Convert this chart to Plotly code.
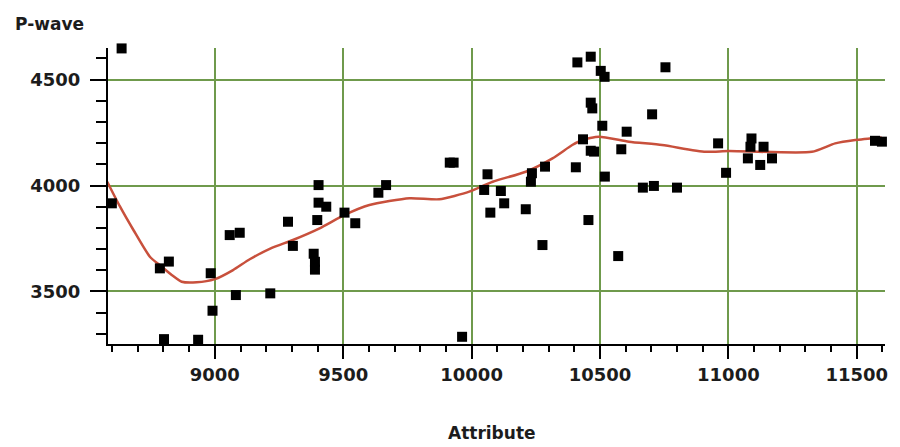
import plotly.graph_objects as go

# Scatter data (Attribute vs P-wave)
attr_x = [8599, 8637, 8786, 8821, 8802, 8935, 8984, 8991, 9058, 9097, 9082, 9216,
          9285, 9304, 9404, 9404, 9434, 9399, 9385, 9390, 9390, 9505, 9547, 9637,
          9667, 9915, 9930, 9963, 10118, 10412, 10464, 10503, 10518, 10464, 10470,
          10509, 10604, 10434, 10464, 10477, 10583, 10406, 10286, 10235, 10231,
          10062, 10049, 10114, 10127, 10073, 10211, 10276, 10455, 10519, 10571,
          10703, 10755, 10960, 10991, 11090, 11086, 11137, 11076, 11124, 11170,
          10667, 10710, 10800, 11571, 11598]
pwave_y = [3916, 4647, 3609, 3641, 3275, 3272, 3586, 3409, 3766, 3777, 3483, 3491,
           3829, 3715, 4002, 3919, 3900, 3837, 3678, 3640, 3603, 3872, 3822, 3966,
           4002, 4108, 4108, 3286, 4652, 4581, 4608, 4541, 4513, 4391, 4364,
           4282, 4254, 4218, 4164, 4160, 4171, 4086, 4089, 4058, 4018,
           4053, 3979, 3974, 3916, 3872, 3888, 3719, 3837, 4042, 3667,
           4336, 4558, 4199, 4060, 4222, 4183, 4183, 4128, 4097, 4128,
           3990, 3998, 3990, 4211, 4207]

# Smoothed trend line
trend_x = [8581, 8631, 8683, 8747, 8793, 8832, 8871, 8929, 9000, 9071, 9136, 9220,
           9304, 9408, 9505, 9602, 9758, 9874, 9991, 10082, 10211, 10315, 10392,
           10431, 10496, 10613, 10742, 10911, 11001, 11325, 11416, 11494, 11597]
trend_y = [4018, 3900, 3790, 3664, 3617, 3578, 3546, 3543, 3558, 3601, 3652, 3705,
           3743, 3798, 3861, 3908, 3940, 3935, 3971, 4018, 4065, 4128, 4191,
           4215, 4230, 4207, 4191, 4159, 4163, 4159, 4199, 4215, 4227]

x_ticks = [9000, 9500, 10000, 10500, 11000, 11500]
y_ticks = [3500, 4000, 4500]

FONT = "DejaVu Sans"
GRID = "#6f9a4c"
TXT = "#1c1c1c"

fig = go.Figure()
fig.add_trace(go.Scatter(x=trend_x, y=trend_y, mode="lines",
                         line=dict(color="#c8503c", width=2.5, shape="spline", smoothing=0.6),
                         hoverinfo="skip"))
fig.add_trace(go.Scatter(x=attr_x, y=pwave_y, mode="markers",
                         marker=dict(symbol="square", size=10, color="black"),
                         cliponaxis=False))

fig.update_layout(
    width=900, height=447,
    margin=dict(l=108, r=13, t=48, b=103),
    paper_bgcolor="white", plot_bgcolor="white",
    showlegend=False,
    font=dict(family=FONT, size=18, color=TXT),
    xaxis=dict(range=[8584, 11610], tickvals=x_ticks, ticktext=[str(v) for v in x_ticks],
               showgrid=True, gridcolor=GRID, gridwidth=2, zeroline=False,
               showline=True, linecolor="black", linewidth=2,
               ticks="outside", ticklen=13, tickwidth=2, tickcolor="black",
               tickfont=dict(family=FONT, size=18, color=TXT, weight="bold"),
               minor=dict(dtick=100, tick0=0, ticks="outside", ticklen=6, tickwidth=2,
                          tickcolor="black", showgrid=False)),
    yaxis=dict(range=[3252, 4649], tickvals=y_ticks, ticktext=[str(v) for v in y_ticks],
               showgrid=True, gridcolor=GRID, gridwidth=2, zeroline=False,
               showline=True, linecolor="black", linewidth=2,
               ticks="outside", ticklen=16, tickwidth=2, tickcolor="black",
               ticklabelstandoff=6,
               tickfont=dict(family=FONT, size=18, color=TXT, weight="bold"),
               minor=dict(dtick=100, tick0=0, ticks="outside", ticklen=10, tickwidth=2,
                          tickcolor="black", showgrid=False)),
    annotations=[
        dict(text="P-wave", xref="paper", yref="paper", x=-0.122, y=1.081,
             xanchor="left", yanchor="middle", showarrow=False,
             font=dict(family=FONT, size=17, color=TXT, weight="bold")),
        dict(text="Attribute", xref="paper", yref="paper", x=0.494, y=-0.30,
             xanchor="center", yanchor="middle", showarrow=False,
             font=dict(family=FONT, size=17, color=TXT, weight="bold")),
    ],
)

fig.write_html("out.html")
